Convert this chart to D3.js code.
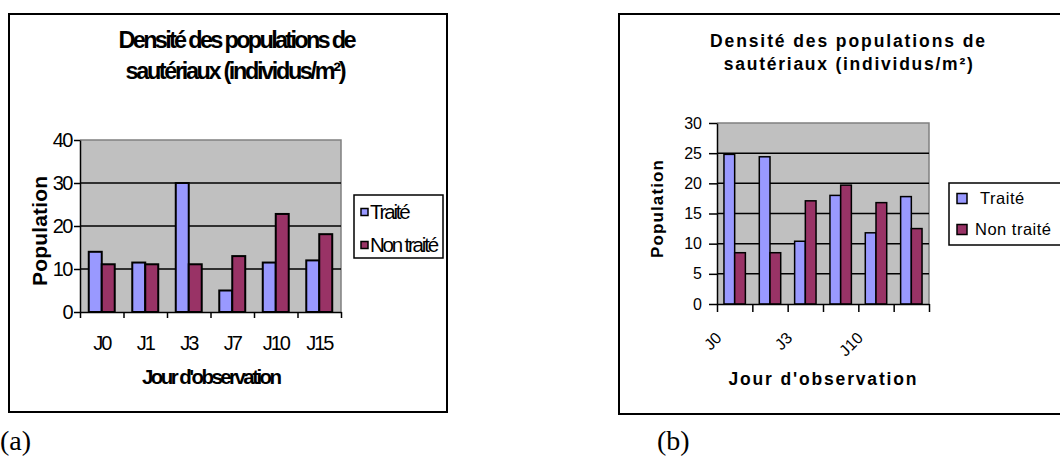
<!DOCTYPE html>
<html>
<head>
<meta charset="utf-8">
<script src="https://cdn.jsdelivr.net/npm/d3@7"></script>
<style>
  html, body { margin: 0; padding: 0; background: #ffffff; }
  svg { display: block; }
  text { font-family: "Liberation Sans", Arial, sans-serif; fill: #000; }
</style>
</head>
<body>
<svg id="fig" width="1060" height="456"></svg>
<script>
// Grasshopper density (individuals per m²) by observation day
const days = ["J0", "J1", "J3", "J7", "J10", "J15"];
const seriesNames = ["Traité", "Non traité"];
const seriesNamesB = ["\u00a0Traité", "Non traité"];

// (a)
const traiteA = [14, 11.5, 30, 5, 11.5, 12];
const nonTraiteA = [11.1, 11.1, 11.1, 13, 22.8, 18.1];
const yTicksA = [0, 10, 20, 30, 40];

// (b)
const traiteB = [24.8, 24.4, 10.4, 18, 11.8, 17.8];
const nonTraiteB = [8.5, 8.5, 17.1, 19.7, 16.8, 12.5];
const yTicksB = [0, 5, 10, 15, 20, 25, 30];
const shownLabelsB = ["J0", "J3", "J10"];

const titleLines = ["Densité des populations de", "sautériaux (individus/m²)"];
const yTitle = "Population";
const xTitle = "Jour d'observation";
const captions = ["(a)", "(b)"];

const colors = ["#9999ff", "#993366"];

const svg = d3.select("#fig");

function drawChart(opt) {
  const g = svg.append("g");
  // outer frame
  g.append("rect")
    .attr("x", opt.frame[0]).attr("y", opt.frame[1])
    .attr("width", opt.frame[2] - opt.frame[0]).attr("height", opt.frame[3] - opt.frame[1])
    .attr("fill", "none").attr("stroke", "#000").attr("stroke-width", 2);

  const p = opt.plot;
  const x = d3.scaleBand().domain(days).range([p.x0, p.x1]).padding(0);
  const gapHalf = x.bandwidth() * opt.gap / (2 + opt.gap) / 2;
  const xs = d3.scaleBand().domain([0, 1]).range([gapHalf, x.bandwidth() - gapHalf]).padding(0);
  const y = d3.scaleLinear().domain([0, d3.max(opt.yTicks)]).range([p.y1, p.y0]);

  // plot area
  g.append("rect")
    .attr("x", p.x0).attr("y", p.y0).attr("width", p.x1 - p.x0).attr("height", p.y1 - p.y0)
    .attr("fill", "#c0c0c0");
  g.append("path")
    .attr("d", `M${p.x0},${p.y0}H${p.x1}V${p.y1}`)
    .attr("fill", "none").attr("stroke", "#808080").attr("stroke-width", 1.5);

  // gridlines
  g.selectAll(".grid").data(opt.yTicks.filter(t => t > 0 && t < d3.max(opt.yTicks)))
    .join("line")
    .attr("x1", p.x0).attr("x2", p.x1)
    .attr("y1", d => y(d)).attr("y2", d => y(d))
    .attr("stroke", "#000").attr("stroke-width", 1.5);

  // bars
  const rows = days.map((d, i) => ({ day: d, vals: [opt.s1[i], opt.s2[i]] }));
  const grp = g.selectAll(".cat").data(rows).join("g")
    .attr("transform", d => `translate(${x(d.day)},0)`);
  grp.selectAll("rect").data(d => d.vals.map((v, k) => ({ v, k })))
    .join("rect")
    .attr("x", d => xs(d.k)).attr("width", xs.bandwidth())
    .attr("y", d => y(d.v)).attr("height", d => y(0) - y(d.v))
    .attr("fill", d => colors[d.k]).attr("stroke", "#000").attr("stroke-width", opt.barStroke);

  // y axis
  const ya = g.append("g").attr("transform", `translate(${p.x0},0)`)
    .call(d3.axisLeft(y).tickValues(opt.yTicks).tickSize(opt.tickLen).tickPadding(opt.yPad).tickSizeOuter(0));
  ya.select(".domain").attr("stroke", "#000").attr("stroke-width", 1.5);
  ya.selectAll(".tick line").attr("stroke", "#000").attr("stroke-width", 1.5);
  ya.selectAll(".tick text")
    .attr("font-family", null).attr("font-size", null)
    .style("font-size", opt.tickFont + "px").style("letter-spacing", opt.ls + "px");

  // x axis: boundary ticks
  const xb = d3.scaleLinear().domain([0, days.length]).range([p.x0, p.x1]);
  const xa = g.append("g").attr("transform", `translate(0,${p.y1})`)
    .call(d3.axisBottom(xb).tickValues(d3.range(days.length + 1)).tickFormat("").tickSize(opt.tickLen).tickSizeOuter(0));
  xa.select(".domain").attr("stroke", "#000").attr("stroke-width", 1.5);
  xa.selectAll(".tick line").attr("stroke", "#000").attr("stroke-width", 1.5);

  // category labels
  if (opt.rotate) {
    g.selectAll(".xl").data(days.filter(d => opt.shown.includes(d))).join("text")
      .attr("transform", d => `translate(${x(d) + x.bandwidth() / 2 - 12},${p.y1 + 35}) rotate(-45)`)
      .attr("text-anchor", "end")
      .style("font-size", opt.tickFont + "px")
      .text(d => d);
  } else {
    g.selectAll(".xl").data(days).join("text")
      .attr("x", d => x(d) + x.bandwidth() / 2).attr("y", p.y1 + 38)
      .attr("text-anchor", "middle")
      .style("font-size", opt.xFont + "px").style("letter-spacing", opt.xls + "px")
      .text(d => d);
  }

  // titles
  titleLines.forEach((t, i) => {
    g.append("text")
      .attr("x", opt.title.cx[i]).attr("y", opt.title.y[i])
      .attr("text-anchor", "middle")
      .attr("textLength", opt.title.len[i]).attr("lengthAdjust", "spacing")
      .style("font-size", opt.title.size + "px").style("font-weight", "bold")
      .text(t);
  });
  g.append("text")
    .attr("transform", `translate(${opt.yt.x},${opt.yt.y}) rotate(-90)`)
    .attr("text-anchor", "middle")
    .attr("textLength", opt.yt.len).attr("lengthAdjust", "spacing")
    .style("font-size", opt.yt.size + "px").style("font-weight", "bold")
    .text(yTitle);
  g.append("text")
    .attr("x", opt.xt.x).attr("y", opt.xt.y)
    .attr("text-anchor", "middle")
    .attr("textLength", opt.xt.len).attr("lengthAdjust", "spacing")
    .style("font-size", opt.xt.size + "px").style("font-weight", "bold")
    .text(xTitle);

  // legend
  const L = opt.legend;
  g.append("rect")
    .attr("x", L.x0).attr("y", L.y0).attr("width", L.x1 - L.x0).attr("height", L.y1 - L.y0)
    .attr("fill", "#fff").attr("stroke", "#000").attr("stroke-width", 1.5);
  const li = g.selectAll(".lg").data(opt.names).join("g")
    .attr("transform", (d, i) => `translate(0,${L.rows[i]})`);
  li.append("rect")
    .attr("x", L.sx).attr("y", -L.sw / 2).attr("width", L.sw).attr("height", L.sw)
    .attr("fill", (d, i) => colors[i]).attr("stroke", "#000").attr("stroke-width", 1.5);
  li.append("text")
    .attr("x", L.tx).attr("dy", "0.36em")
    .style("font-size", L.size + "px").style("letter-spacing", L.ls + "px")
    .style("white-space", "pre")
    .text(d => d);

  // caption
  svg.append("text")
    .attr("x", opt.cap.x).attr("y", opt.cap.y)
    .style("font-family", "Liberation Serif, Times New Roman, serif")
    .style("font-size", "28px")
    .text(opt.cap.t);
}

drawChart({
  frame: [9, 14, 447, 412],
  plot: { x0: 80, x1: 341, y0: 140, y1: 312 },
  gap: 1.35, barStroke: 2,
  s1: traiteA, s2: nonTraiteA, yTicks: yTicksA,
  tickLen: 6, yPad: 2, tickFont: 20, ls: -1.5,
  xFont: 20, xls: -2,
  rotate: false,
  title: { cx: [237.5, 236], y: [48, 79], len: [238, 221], size: 23.5 },
  yt: { x: 47, y: 231, len: 110, size: 21 },
  xt: { x: 212, y: 384, len: 140, size: 20.5 },
  legend: { x0: 354, x1: 443, y0: 195, y1: 258, rows: [212, 245], sx: 361, sw: 7, tx: 370, size: 20.5, ls: -2.2 },
  names: seriesNames,
  cap: { x: 0, y: 450, t: captions[0] }
});

drawChart({
  frame: [619, 14, 1068, 414],
  plot: { x0: 717, x1: 929, y0: 123, y1: 304 },
  gap: 1.3, barStroke: 1.5,
  s1: traiteB, s2: nonTraiteB, yTicks: yTicksB,
  tickLen: 8, yPad: 7, tickFont: 16, ls: 0,
  rotate: true, shown: shownLabelsB,
  title: { cx: [847.5, 848.3], y: [47, 70], len: [275, 249], size: 17.5 },
  yt: { x: 663, y: 209, len: 98, size: 17 },
  xt: { x: 822.5, y: 385, len: 188, size: 17.5 },
  legend: { x0: 949, x1: 1070, y0: 183, y1: 245, rows: [198.5, 229.5], sx: 957, sw: 10, tx: 975, size: 16.5, ls: 0.5 },
  names: seriesNamesB,
  cap: { x: 657, y: 450, t: captions[1] }
});
</script>
</body>
</html>
